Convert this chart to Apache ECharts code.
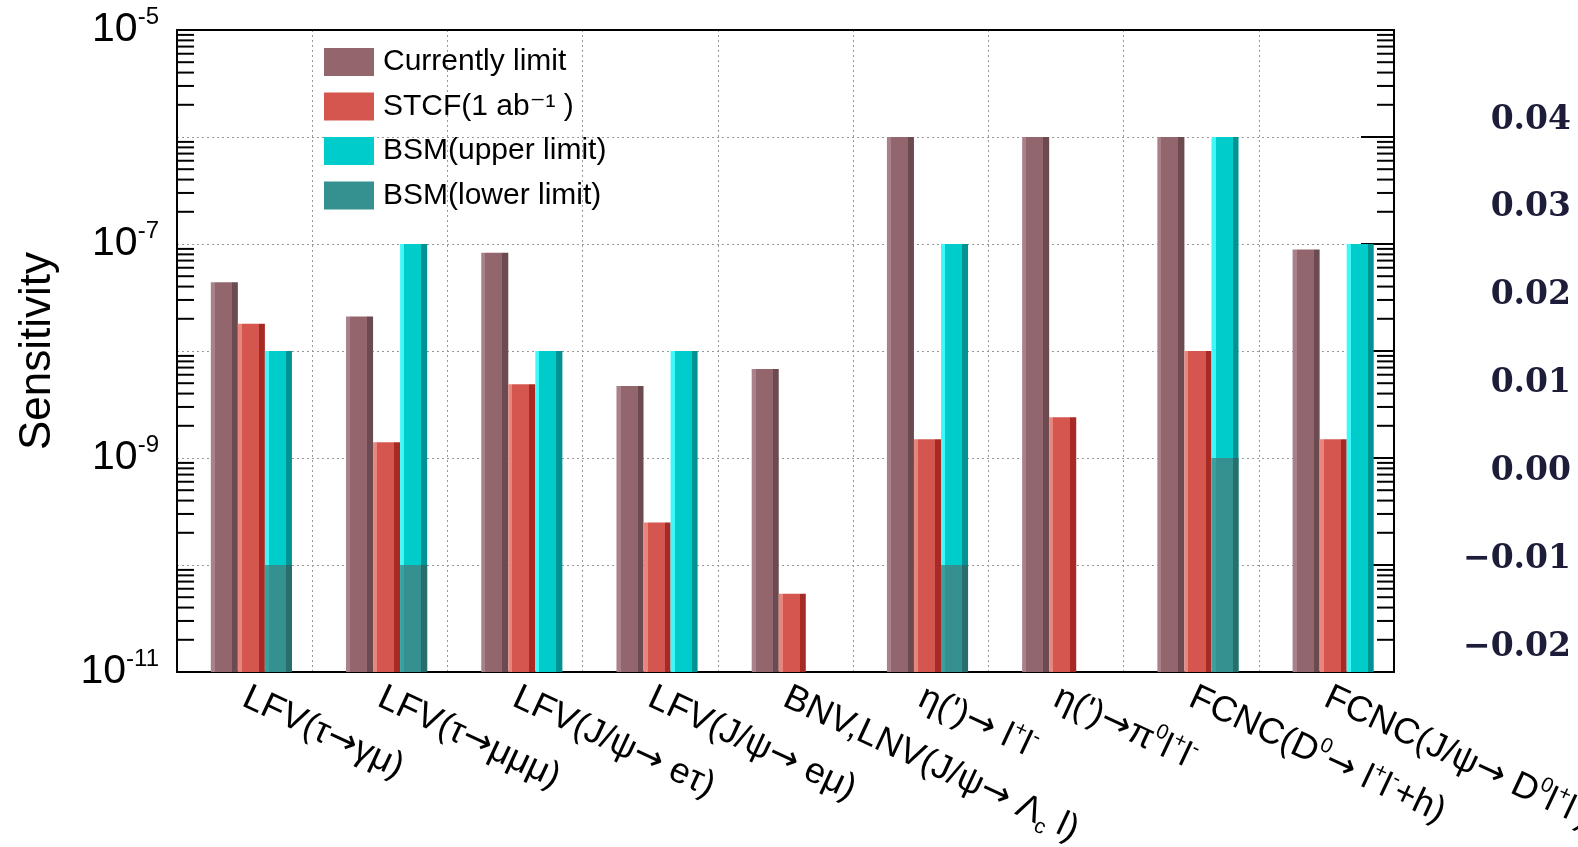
<!DOCTYPE html>
<html>
<head>
<meta charset="utf-8">
<script src="https://cdn.jsdelivr.net/npm/echarts@6/dist/echarts.min.js"></script>
<style>
  html, body { margin: 0; padding: 0; background: #fff; }
  #chart { width: 1578px; height: 847px; }
</style>
</head>
<body>
<div id="chart"></div>
<script>
// categories (rich text markup for sub/superscripts)
const categories = [
    'LFV(τ→γμ)',
    'LFV(τ→μμμ)',
    'LFV(J/ψ→ eτ)',
    'LFV(J/ψ→ eμ)',
    'BNV,LNV(J/ψ→ Λ{sub|c} l)',
    "η(')→ l{sup|+}l{sup|-}",
    "η(')→π{sup|0}l{sup|+}l{sup|-}",
    'FCNC(D{sup|0}→ l{sup|+}l{sup|-}+h)',
    'FCNC(J/ψ→ D{sup|0}l{sup|+}l{sup|-})'
];
// values
const currentLimit = [4.4e-8, 2.1e-8, 8.3e-8, 4.7e-9, 6.8e-9, 1e-6, 1e-6, 1e-6, 8.9e-8];
const stcf = [1.8e-8, 1.4e-9, 4.9e-9, 2.5e-10, 5.4e-11, 1.5e-9, 2.4e-9, 1e-8, 1.5e-9];
const bsmUpper = [1e-8, 1e-7, 1e-8, 1e-8, null, 1e-7, null, 1e-6, 1e-7];
const bsmLower = [1e-10, 1e-10, null, null, null, 1e-10, null, 1e-9, null];
// the odd linear axis on the right
const rightMin = -0.02, rightMax = 0.04, rightStep = 0.01;

const yMin = 1e-11, yMax = 1e-5;
const font = "'Liberation Sans', 'DejaVu Sans', sans-serif";

// ROOT style minor ticks 2..9 x 10^n
let minorTicks = [];
for (let e = -11; e < -5; e++) {
    for (let k = 2; k <= 9; k++) minorTicks.push([0, k * Math.pow(10, e)]);
}

function toPoints(arr) {
    let out = [];
    arr.forEach(function (v, i) { if (v != null) out.push([i, v]); });
    return out;
}

function shade(c) {
    return new echarts.graphic.LinearGradient(0, 0, 1, 0, [
        {offset: 0, color: c[0]}, {offset: 0.15, color: c[0]},
        {offset: 0.15, color: c[1]}, {offset: 0.78, color: c[1]},
        {offset: 0.78, color: c[2]}, {offset: 1, color: c[2]}
    ]);
}

// bars drawn with a custom series so they grow from the bottom of the log axis
function barSeries(name, data, offset, colors) {
    return {
        name: name,
        type: 'custom',
        xAxisIndex: 0,
        yAxisIndex: 0,
        itemStyle: {color: colors[1]},
        data: toPoints(data),
        renderItem: function (params, api) {
            let band = api.size([1, 0])[0];
            let top = api.coord([api.value(0), api.value(1)]);
            let base = api.coord([api.value(0), yMin]);
            let w = band * 0.2;
            return {
                type: 'rect',
                shape: {x: top[0] - band / 2 + band * offset, y: top[1], width: w, height: base[1] - top[1]},
                style: {fill: shade(colors)}
            };
        }
    };
}

let myChart = echarts.init(document.getElementById('chart'));

let option = {
    backgroundColor: '#fff',
    animation: false,
    textStyle: {fontFamily: font},
    grid: [
        {left: 177, right: 184, top: 30, bottom: 175, outerBoundsMode: 'none'},
        {left: 1400, right: 7, top: 120, bottom: 200, outerBoundsMode: 'none'}
    ],
    legend: {
        orient: 'vertical',
        left: 319,
        top: 42,
        itemWidth: 50,
        itemHeight: 28,
        itemGap: 14.5,
        icon: 'rect',
        textStyle: {fontSize: 30, color: '#000', fontFamily: font, padding: [0, 0, 0, 4]},
        data: [
            'Currently limit',
            'STCF(1 ab⁻¹ )',
            'BSM(upper limit)',
            'BSM(lower limit)'
        ]
    },
    xAxis: [
        {
            type: 'category',
            gridIndex: 0,
            position: 'bottom',
            data: categories,
            axisLine: {lineStyle: {color: '#000', width: 2}},
            axisTick: {inside: true, length: 20, lineStyle: {color: '#000', width: 2}},
            splitLine: {show: true, lineStyle: {color: '#999', type: [2, 3], width: 1}},
            axisLabel: {
                rotate: -25,
                margin: 24,
                interval: 0,
                fontSize: 36,
                color: '#000',
                fontFamily: font,
                lineHeight: 44,
                formatter: function (v) { return v.replace(/→/g, '{arr|→}'); },
                rich: {
                    sup: {fontSize: 21, verticalAlign: 'top', fontFamily: font, color: '#000'},
                    sub: {fontSize: 21, verticalAlign: 'bottom', fontFamily: font, color: '#000'},
                    arr: {fontSize: 36, fontFamily: "'DejaVu Sans', sans-serif", color: '#000'}
                }
            }
        },
        {
            type: 'category',
            gridIndex: 0,
            position: 'top',
            data: categories,
            axisLine: {lineStyle: {color: '#000', width: 2}},
            axisTick: {inside: true, length: 10, lineStyle: {color: '#000', width: 2}},
            axisLabel: {show: false},
            splitLine: {show: false}
        },
        {type: 'value', gridIndex: 1, show: false, min: 0, max: 1}
    ],
    yAxis: [
        {
            type: 'log',
            logBase: 10,
            gridIndex: 0,
            min: yMin,
            max: yMax,
            splitNumber: 6,
            name: 'Sensitivity',
            nameLocation: 'middle',
            nameGap: 117,
            nameTextStyle: {fontSize: 44, color: '#000', fontFamily: font},
            axisLine: {show: true, lineStyle: {color: '#000', width: 2}},
            axisTick: {inside: true, length: 33, lineStyle: {color: '#000', width: 2}},
            splitLine: {show: true, lineStyle: {color: '#999', type: [2, 3], width: 1}},
            axisLabel: {
                margin: 18,
                formatter: function (v) {
                    let e = Math.round(Math.log10(v));
                    if (e % 2 === 0) return '';
                    return '{b|10}{s|' + e + '}';
                },
                rich: {
                    b: {fontSize: 41, lineHeight: 50, color: '#000', fontFamily: font},
                    s: {fontSize: 24, verticalAlign: 'top', color: '#000', fontFamily: font}
                }
            }
        },
        {
            type: 'log',
            logBase: 10,
            gridIndex: 0,
            position: 'right',
            min: yMin,
            max: yMax,
            splitNumber: 6,
            axisLine: {show: true, lineStyle: {color: '#000', width: 2}},
            axisTick: {show: true, inside: true, length: 33, lineStyle: {color: '#000', width: 2}},
            axisLabel: {show: false},
            splitLine: {show: false}
        },
        {
            type: 'value',
            gridIndex: 1,
            position: 'right',
            min: rightMin,
            max: rightMax,
            interval: rightStep,
            axisLine: {show: false},
            axisTick: {show: false},
            splitLine: {show: false},
            axisLabel: {
                inside: true,
                margin: 0,
                fontSize: 33,
                fontWeight: 'bold',
                color: '#1d1d3a',
                fontFamily: "'DejaVu Serif', 'Liberation Serif', serif",
                formatter: function (v) { return v.toFixed(2).replace('-', '\u2212'); }
            }
        }
    ],
    series: [
        barSeries('Currently limit', currentLimit, 0.25, ['#a9818a', '#93656d', '#6b4a50']),
        barSeries('STCF(1 ab⁻¹ )', stcf, 0.45, ['#e8867e', '#d5564e', '#a82a25']),
        barSeries('BSM(upper limit)', bsmUpper, 0.65, ['#3ff8f8', '#00cccc', '#009393']),
        barSeries('BSM(lower limit)', bsmLower, 0.65, ['#3aa09e', '#35918f', '#276e6c']),
        {
            type: 'custom',
            silent: true,
            xAxisIndex: 0,
            yAxisIndex: 0,
            data: minorTicks,
            renderItem: function (params, api) {
                let y = api.coord([0, api.value(1)])[1];
                let x0 = params.coordSys.x;
                let x1 = x0 + params.coordSys.width;
                return {
                    type: 'group',
                    children: [
                        {type: 'line', shape: {x1: x0, y1: y, x2: x0 + 17, y2: y}, style: {stroke: '#000', lineWidth: 2}},
                        {type: 'line', shape: {x1: x1, y1: y, x2: x1 - 17, y2: y}, style: {stroke: '#000', lineWidth: 2}}
                    ]
                };
            }
        }
    ]
};

myChart.setOption(option);
</script>
</body>
</html>
